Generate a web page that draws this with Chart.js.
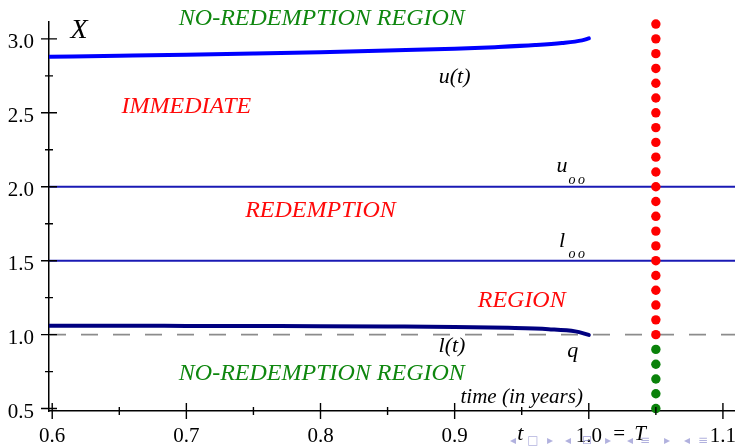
<!DOCTYPE html>
<html>
<head>
<meta charset="utf-8">
<script src="https://cdn.jsdelivr.net/npm/chart.js@4/dist/chart.umd.min.js"></script>
<style>
  html, body { margin: 0; padding: 0; background: #fff; }
  #wrap { width: 735px; height: 447px; }
</style>
</head>
<body>
<div id="wrap"><canvas id="c" width="735" height="447"></canvas></div>
<script>
// Upper optimal redemption boundary u(t)
const tUpper = [0.598, 0.65, 0.70, 0.75, 0.80, 0.85, 0.90, 0.93, 0.96, 0.98, 0.995, 1.00];
const uValues = [2.879, 2.886, 2.893, 2.901, 2.910, 2.921, 2.933, 2.944, 2.958, 2.972, 2.990, 3.003];
// Lower boundary l(t)
const tLower = [0.598, 0.65, 0.70, 0.75, 0.80, 0.85, 0.90, 0.94, 0.97, 0.99, 1.00];
const lValues = [1.060, 1.060, 1.059, 1.058, 1.057, 1.055, 1.052, 1.046, 1.037, 1.022, 0.998];
// Perpetual limits and the strike level q
const uInf = 2.0;
const lInf = 1.5;
const qLevel = 1.0;
// Terminal date column of dots
const maturity = 1.05;
const redLevels = [1.0, 1.1, 1.2, 1.3, 1.4, 1.5, 1.6, 1.7, 1.8, 1.9, 2.0, 2.1, 2.2, 2.3, 2.4, 2.5, 2.6, 2.7, 2.8, 2.9, 3.0, 3.1];
const greenLevels = [0.5, 0.6, 0.7, 0.8, 0.9];
// Axis ticks
const xMajor = [0.6, 0.7, 0.8, 0.9, 1.0, 1.1];
const xMinor = [0.65, 0.75, 0.85, 0.95, 1.05];
const yMajor = [0.5, 1.0, 1.5, 2.0, 2.5, 3.0];
const yMinor = [0.75, 1.25, 1.75, 2.25, 2.75];
const xMin = 0.5976, xMax = 1.109;
const yMin = 0.4836, yMax = 3.114;

const SERIF = "'Liberation Serif', 'Times New Roman', serif";
const GREEN = '#0f870f';
const RED = '#ff0a0a';

function pts(xs, ys) { return xs.map((x, i) => ({ x: x, y: ys[i] })); }

function tickList(major, minor) {
  return major.concat(minor).sort((a, b) => a - b).map(v => ({ value: v }));
}

function isMajor(list, v) { return list.some(m => Math.abs(m - v) < 1e-9); }

// Tick marks crossing both axes, and the text annotations
const decorations = {
  id: 'decorations',
  afterDraw(chart) {
    const ctx = chart.ctx;
    const xs = chart.scales.x, ys = chart.scales.y;
    const left = chart.chartArea.left, bottom = chart.chartArea.bottom;
    ctx.save();
    ctx.strokeStyle = '#000';
    ctx.lineWidth = 1.4;
    ctx.beginPath();
    yMajor.forEach(v => { const p = ys.getPixelForValue(v); ctx.moveTo(left - 8, p); ctx.lineTo(left + 8, p); });
    yMinor.forEach(v => { const p = ys.getPixelForValue(v); ctx.moveTo(left - 4, p); ctx.lineTo(left + 4, p); });
    xMajor.forEach(v => { const p = xs.getPixelForValue(v); ctx.moveTo(p, bottom - 8); ctx.lineTo(p, bottom + 8); });
    xMinor.forEach(v => { const p = xs.getPixelForValue(v); ctx.moveTo(p, bottom - 4); ctx.lineTo(p, bottom + 4); });
    ctx.stroke();

    function text(str, t, v, size, color, italic) {
      ctx.font = (italic === false ? '' : 'italic ') + size + 'px ' + SERIF;
      ctx.fillStyle = color;
      ctx.textAlign = 'center';
      ctx.textBaseline = 'alphabetic';
      ctx.fillText(str, xs.getPixelForValue(t), ys.getPixelForValue(v));
    }

    text('X', 0.620, 3.006, 28, '#000');
    text('NO-REDEMPTION REGION', 0.801, 3.094, 24, GREEN);
    text('IMMEDIATE', 0.700, 2.497, 24, RED);
    text('REDEMPTION', 0.800, 1.795, 24, RED);
    text('REGION', 0.950, 1.190, 24, RED);
    text('NO-REDEMPTION REGION', 0.801, 0.693, 24, GREEN);
    text('u(t)', 0.900, 2.701, 22, '#000');
    text('u', 0.980, 2.102, 22, '#000');
    text('o', 0.9875, 2.016, 14, '#000');
    text('o', 0.9945, 2.016, 14, '#000');
    text('l', 0.980, 1.594, 22, '#000');
    text('o', 0.9875, 1.515, 14, '#000');
    text('o', 0.9945, 1.515, 14, '#000');
    text('l(t)', 0.898, 0.885, 22, '#000');
    text('q', 0.988, 0.851, 22, '#000');
    text('time (in years)', 0.950, 0.540, 21, '#000');

    // symbols next to the time axis labels
    ctx.textBaseline = 'alphabetic';
    ctx.textAlign = 'center';
    ctx.font = 'italic 22px ' + SERIF;
    ctx.fillStyle = '#000';
    ctx.fillText('t', xs.getPixelForValue(0.949), bottom + 29);
    ctx.font = '21px ' + SERIF;
    ctx.fillText('=', xs.getPixelForValue(1.0226), bottom + 29);
    ctx.font = 'italic 21px ' + SERIF;
    ctx.fillText('T', xs.getPixelForValue(1.0383), bottom + 29);

    // navigation glyphs along the bottom edge
    ctx.fillStyle = 'rgba(135,135,205,0.65)';
    ctx.font = '12px DejaVu Sans';
    const nav = [['\u25C2', 513], ['\u25A1', 533], ['\u25B8', 550], ['\u25C2', 568], ['\u229F', 587],
                 ['\u25B8', 608], ['\u25C2', 630], ['\u2261', 645], ['\u25B8', 667], ['\u25C2', 687], ['\u2261', 703]];
    nav.forEach(([g, x]) => ctx.fillText(g, x, chart.height - 3));
    ctx.restore();
  }
};

new Chart(document.getElementById('c'), {
  type: 'scatter',
  data: {
    datasets: [
      { label: 'red', data: redLevels.map(v => ({ x: maturity, y: v })), showLine: false,
        pointRadius: 4.7, pointBackgroundColor: '#ff0000', pointBorderWidth: 0, clip: false },
      { label: 'green', data: greenLevels.map(v => ({ x: maturity, y: v })), showLine: false,
        pointRadius: 4.7, pointBackgroundColor: '#0a820a', pointBorderWidth: 0, clip: false },
      { label: 'u(t)', data: pts(tUpper, uValues), showLine: true, borderColor: '#0000ff',
        borderWidth: 4, pointRadius: 0, cubicInterpolationMode: 'monotone', borderCapStyle: 'round' },
      { label: 'l(t)', data: pts(tLower, lValues), showLine: true, borderColor: '#000080',
        borderWidth: 4, pointRadius: 0, cubicInterpolationMode: 'monotone', borderCapStyle: 'round' },
      { label: 'u_inf', data: [{ x: xMin, y: uInf }, { x: xMax, y: uInf }], showLine: true,
        borderColor: '#1a1ab4', borderWidth: 2, pointRadius: 0 },
      { label: 'l_inf', data: [{ x: xMin, y: lInf }, { x: xMax, y: lInf }], showLine: true,
        borderColor: '#1a1ab4', borderWidth: 2, pointRadius: 0 },
      { label: 'q', data: [{ x: xMin, y: qLevel }, { x: xMax, y: qLevel }], showLine: true,
        borderColor: '#8c8c8c', borderWidth: 1.6, borderDash: [17, 15], pointRadius: 0 }
    ]
  },
  options: {
    responsive: false,
    animation: false,
    devicePixelRatio: 1,
    layout: { autoPadding: false, padding: { top: 22, right: 0, left: 0, bottom: 0 } },
    plugins: { legend: { display: false }, tooltip: { enabled: false } },
    scales: {
      x: {
        type: 'linear', min: xMin, max: xMax,
        grid: { display: false, drawTicks: false },
        border: { display: true, color: '#000', width: 1.5 },
        afterBuildTicks: s => { s.ticks = tickList(xMajor, xMinor); },
        afterFit: s => { s.height = 36; s.paddingLeft = 0; s.paddingRight = 0; },
        ticks: {
          autoSkip: false, maxRotation: 0, padding: 13, color: '#000',
          font: { family: SERIF, size: 21 },
          callback: v => isMajor(xMajor, v) ? v.toFixed(1) : ''
        }
      },
      y: {
        type: 'linear', min: yMin, max: yMax,
        grid: { display: false, drawTicks: false },
        border: { display: true, color: '#000', width: 1.5 },
        afterBuildTicks: s => { s.ticks = tickList(yMajor, yMinor); },
        afterFit: s => { s.width = 49; s.paddingTop = 0; s.paddingBottom = 0; },
        ticks: {
          autoSkip: false, padding: 15, labelOffset: 4, color: '#000',
          font: { family: SERIF, size: 21 },
          callback: v => isMajor(yMajor, v) ? v.toFixed(1) : ''
        }
      }
    }
  },
  plugins: [decorations]
});
</script>
</body>
</html>
